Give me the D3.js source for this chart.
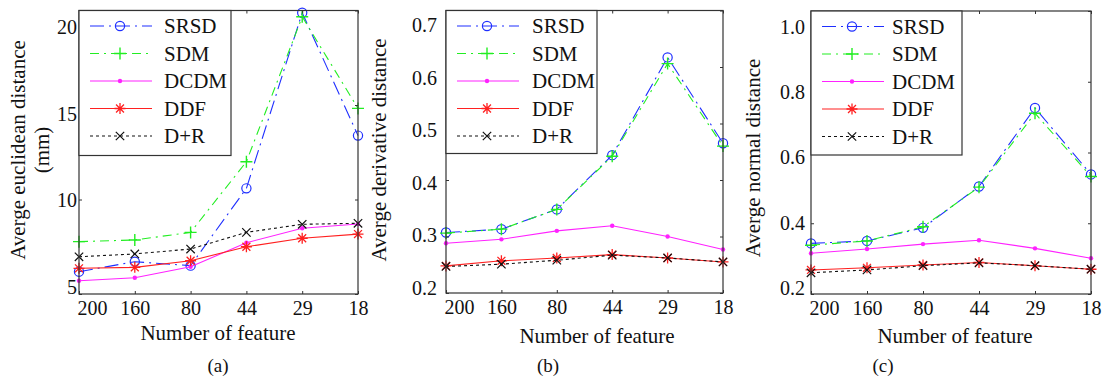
<!DOCTYPE html>
<html>
<head>
<meta charset="utf-8">
<script src="https://cdn.jsdelivr.net/npm/d3@7"></script>
<style>
  html, body { margin: 0; padding: 0; background: #fff; }
  svg { display: block; font-family: "Liberation Serif", "Times New Roman", serif; }
  svg text { font-family: "Liberation Serif", "Times New Roman", serif; }
</style>
</head>
<body>
<svg id="chart" width="1102" height="377"></svg>
<script>
// ---- data ----
const categories = ["200", "160", "80", "44", "29", "18"];
const seriesNames = ["SRSD", "SDM", "DCDM", "DDF", "D+R"];

// (a) average euclidean distance (mm)
const srsdA = [6.18, 6.71, 6.50, 10.59, 19.88, 13.38];
const sdmA  = [7.77, 7.86, 8.26, 12.00, 19.67, 14.82];
const dcdmA = [5.70, 5.86, 6.44, 7.71, 8.48, 8.70];
const ddfA  = [6.36, 6.41, 6.76, 7.50, 7.95, 8.17];
const drA   = [6.97, 7.12, 7.38, 8.26, 8.69, 8.74];
const ticksA = [5, 10, 15, 20];

// (b) average derivative distance
const srsdB = [0.307, 0.313, 0.348, 0.444, 0.617, 0.465];
const sdmB  = [0.306, 0.313, 0.348, 0.442, 0.606, 0.460];
const dcdmB = [0.288, 0.295, 0.310, 0.319, 0.300, 0.277];
const ddfB  = [0.248, 0.257, 0.262, 0.268, 0.262, 0.255];
const drB   = [0.247, 0.251, 0.258, 0.267, 0.262, 0.255];
const ticksB = [0.2, 0.3, 0.4, 0.5, 0.6, 0.7];

// (c) average normal distance
const srsdC = [0.343, 0.350, 0.387, 0.504, 0.726, 0.538];
const sdmC  = [0.338, 0.350, 0.390, 0.502, 0.711, 0.532];
const dcdmC = [0.315, 0.327, 0.341, 0.352, 0.329, 0.301];
const ddfC  = [0.268, 0.274, 0.282, 0.289, 0.280, 0.270];
const drC   = [0.260, 0.268, 0.280, 0.288, 0.280, 0.270];
const ticksC = [0.2, 0.4, 0.6, 0.8, 1.0];

// ---- styles ----
const FONT = "Liberation Serif, Times New Roman, serif";
const styles = {
  "SRSD": { color: "#1f2fff", dash: "14,5,2,5", marker: "circle" },
  "SDM":  { color: "#22ee22", dash: "9,5,2,5",  marker: "plus" },
  "DCDM": { color: "#ff22ff", dash: null,       marker: "dot" },
  "DDF":  { color: "#ff2020", dash: null,       marker: "asterisk" },
  "D+R":  { color: "#111111", dash: "3,3",      marker: "cross" }
};

const panels = [
  { id: "a", left: 79, right: 358, top: 10.5, bottom: 294, domain: [5, 20], ticks: ticksA,
    fmt: d3.format("d"), labelRange: [287, 27], labelPad: 2,
    values: [srsdA, sdmA, dcdmA, ddfA, drA],
    titleLines: ["Averge euclidean distance", "(mm)"], titleX: [25, 49], titleY: 150,
    xTitleX: 218, xTitleY: 340, sub: "(a)", subX: 218, legend: { w: 152, h: 145, textDx: 85 } },
  { id: "b", left: 446, right: 723, top: 10.5, bottom: 293, domain: [0.2, 0.7], ticks: ticksB,
    fmt: d3.format(".1f"), labelRange: [288, 25], labelPad: 9,
    values: [srsdB, sdmB, dcdmB, ddfB, drB],
    titleLines: ["Averge derivative distance"], titleX: [386], titleY: 150,
    xTitleX: 597, xTitleY: 343, sub: "(b)", subX: 548, legend: { w: 151, h: 143, textDx: 86 } },
  { id: "c", left: 811, right: 1091, top: 11, bottom: 294, domain: [0.2, 1.0], ticks: ticksC,
    fmt: d3.format(".1f"), labelRange: [288, 27], labelPad: 6,
    values: [srsdC, sdmC, dcdmC, ddfC, drC],
    titleLines: ["Averge normal distance"], titleX: [760], titleY: 158,
    xTitleX: 955, xTitleY: 343, sub: "(c)", subX: 883, legend: { w: 151, h: 144, textDx: 81 } }
];

const svg = d3.select("#chart");

function drawMarker(g, type, cx, cy, color) {
  if (type === "circle") {
    g.append("circle").attr("cx", cx).attr("cy", cy).attr("r", 4.6)
      .attr("fill", "none").attr("stroke", color).attr("stroke-width", 1.2);
  } else if (type === "plus") {
    const s = 6;
    g.append("path").attr("d", `M${cx - s},${cy}H${cx + s}M${cx},${cy - s}V${cy + s}`)
      .attr("stroke", color).attr("stroke-width", 1.4).attr("fill", "none");
  } else if (type === "dot") {
    g.append("circle").attr("cx", cx).attr("cy", cy).attr("r", 2.2).attr("fill", color);
  } else if (type === "asterisk") {
    const s = 5.5, d = s * 0.72;
    g.append("path").attr("d",
      `M${cx - s},${cy}H${cx + s}M${cx},${cy - s}V${cy + s}M${cx - d},${cy - d}L${cx + d},${cy + d}M${cx - d},${cy + d}L${cx + d},${cy - d}`)
      .attr("stroke", color).attr("stroke-width", 1.3).attr("fill", "none");
  } else if (type === "cross") {
    const d = 4.2;
    g.append("path").attr("d", `M${cx - d},${cy - d}L${cx + d},${cy + d}M${cx - d},${cy + d}L${cx + d},${cy - d}`)
      .attr("stroke", color).attr("stroke-width", 1.2).attr("fill", "none");
  }
}

function setFont(sel, size) {
  sel.style("font-family", FONT).style("font-size", size + "px").attr("fill", "#111");
}

panels.forEach(p => {
  const x = d3.scalePoint().domain(categories).range([p.left, p.right]).padding(0);
  const y = d3.scaleLinear().domain(p.domain).range([p.bottom, p.top]);
  const yLabel = y.copy().range(p.labelRange);

  const g = svg.append("g").attr("class", "panel-" + p.id);

  // series lines and markers
  p.values.forEach((vals, si) => {
    const name = seriesNames[si];
    const st = styles[name];
    const pts = categories.map((c, i) => [x(c), y(vals[i])]);
    g.append("path").datum(pts)
      .attr("d", d3.line())
      .attr("fill", "none").attr("stroke", st.color).attr("stroke-width", 1.1)
      .attr("stroke-dasharray", st.dash);
    pts.forEach(pt => drawMarker(g, st.marker, pt[0], pt[1], st.color));
  });

  // frame
  g.append("rect").attr("x", p.left).attr("y", p.top)
    .attr("width", p.right - p.left).attr("height", p.bottom - p.top)
    .attr("fill", "none").attr("stroke", "#333").attr("stroke-width", 1.2);

  // inner ticks on four sides
  const tickStyle = sel => {
    sel.select(".domain").remove();
    sel.selectAll(".tick line").attr("stroke", "#333");
  };
  g.append("g").attr("transform", `translate(0,${p.bottom})`)
    .call(d3.axisBottom(x).tickSize(-3).tickPadding(7))
    .call(tickStyle)
    .call(a => {
      setFont(a.selectAll("text"), 20);
      a.select(".tick text").attr("dx", 13);
    });
  g.append("g").attr("transform", `translate(0,${p.top})`)
    .call(d3.axisTop(x).tickSize(-3).tickFormat(""))
    .call(tickStyle);
  g.append("g").attr("transform", `translate(${p.left},0)`)
    .call(d3.axisLeft(y).tickValues(p.ticks).tickSize(-3).tickFormat(""))
    .call(tickStyle);
  g.append("g").attr("transform", `translate(${p.right},0)`)
    .call(d3.axisRight(y).tickValues(p.ticks).tickSize(-3).tickFormat(""))
    .call(tickStyle);
  // y tick labels
  g.append("g").attr("transform", `translate(${p.left},0)`)
    .call(d3.axisLeft(yLabel).tickValues(p.ticks).tickSize(0).tickPadding(p.labelPad).tickFormat(p.fmt))
    .call(a => {
      a.select(".domain").remove();
      setFont(a.selectAll("text"), 20);
    });

  // legend
  const L = p.legend;
  const lg = g.append("g").attr("transform", `translate(${p.left},${p.top})`);
  lg.append("rect").attr("width", L.w).attr("height", L.h)
    .attr("fill", "#fff").attr("stroke", "#333").attr("stroke-width", 1.2);
  seriesNames.forEach((name, i) => {
    const st = styles[name];
    const ly = 15.5 + i * 27.5;
    lg.append("line").attr("x1", 11).attr("x2", 73).attr("y1", ly).attr("y2", ly)
      .attr("stroke", st.color).attr("stroke-width", 1.1).attr("stroke-dasharray", st.dash);
    drawMarker(lg, st.marker, 41, ly, st.color);
    lg.append("text").attr("x", L.textDx).attr("y", ly).attr("dy", "0.35em")
      .call(s => setFont(s, 21)).text(name);
  });

  // y title
  p.titleLines.forEach((t, i) => {
    g.append("text")
      .attr("transform", `translate(${p.titleX[i]},${p.titleY}) rotate(-90)`)
      .attr("text-anchor", "middle")
      .call(s => setFont(s, 21)).text(t);
  });
  // x title
  g.append("text").attr("x", p.xTitleX).attr("y", p.xTitleY).attr("text-anchor", "middle")
    .call(s => setFont(s, 21)).text("Number of feature");
  // sub label
  g.append("text").attr("x", p.subX).attr("y", 372).attr("text-anchor", "middle")
    .call(s => setFont(s, 19)).text(p.sub);
});
</script>
</body>
</html>
